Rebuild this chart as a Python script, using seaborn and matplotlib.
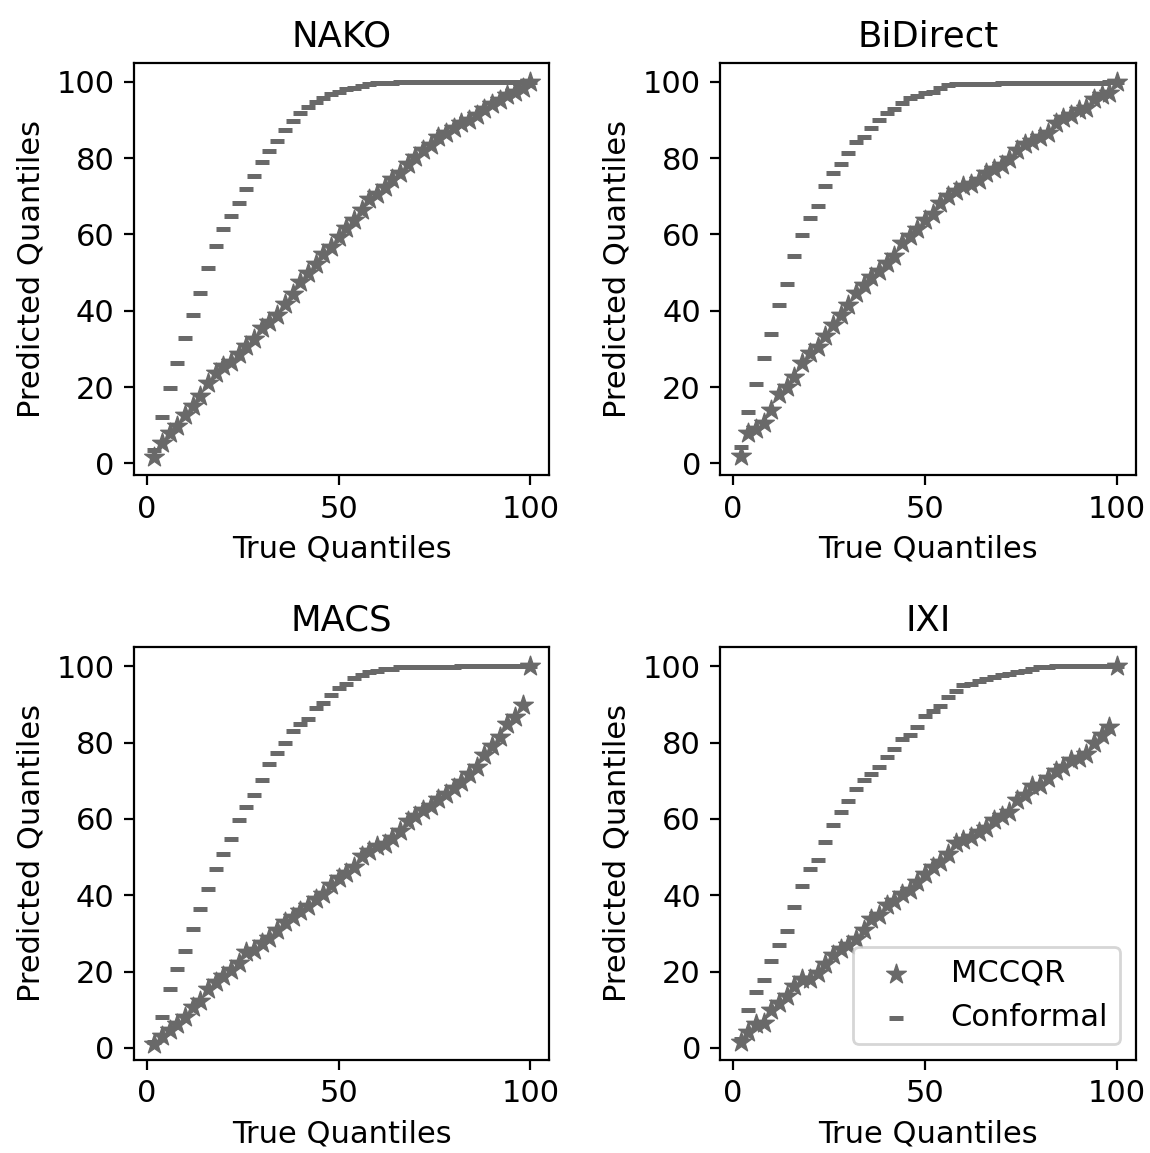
import matplotlib
matplotlib.use("Agg")
import matplotlib.pyplot as plt
import seaborn as sns
import pandas as pd

true_q = [2, 4, 6, 8, 10, 12, 14, 16, 18, 20, 22, 24, 26, 28, 30, 32, 34, 36, 38, 40,
          42, 44, 46, 48, 50, 52, 54, 56, 58, 60, 62, 64, 66, 68, 70, 72, 74, 76, 78, 80,
          82, 84, 86, 88, 90, 92, 94, 96, 98, 100]

titles = ["NAKO", "BiDirect", "MACS", "IXI"]

nako_mccqr = [1.7, 5.4, 7.9, 9.8, 12.7, 15.1, 17.7, 21.0, 23.6, 25.5, 26.6, 28.6, 30.7, 32.5,
              35.4, 37.1, 38.9, 41.9, 44.5, 47.6, 49.8, 52.2, 54.8, 56.8, 59.4, 61.6, 63.9,
              66.4, 69.2, 70.7, 72.5, 74.4, 76.0, 78.4, 80.2, 82.1, 83.4, 85.6, 86.6, 87.8,
              89.1, 90.0, 91.4, 93.0, 94.3, 95.2, 96.5, 97.2, 98.3, 100.0]
nako_conf = [3.6, 12.2, 19.7, 26.2, 32.9, 38.9, 44.7, 51.1, 57.0, 61.4, 64.8, 68.3, 71.9, 75.4,
             79.0, 81.9, 84.5, 87.3, 89.7, 91.9, 93.4, 94.8, 95.8, 96.8, 97.4, 98.0, 98.5,
             99.0, 99.4, 99.6, 99.7, 99.8, 99.9, 99.9, 99.9, 100.0, 100.0, 100.0, 100.0, 100.0,
             100.0, 100.0, 100.0, 100.0, 100.0, 100.0, 100.0, 100.0, 100.0, 100.0]

bidirect_mccqr = [2.0, 7.9, 9.0, 10.7, 14.0, 18.3, 20.1, 22.7, 26.2, 28.8, 30.6, 33.5, 36.2,
                  39.0, 41.6, 44.7, 46.7, 48.9, 50.5, 52.4, 54.3, 57.8, 59.5, 61.4, 63.9, 65.4,
                  68.2, 70.0, 71.4, 72.7, 73.3, 74.3, 76.2, 77.2, 78.1, 79.8, 82.0, 83.6, 84.6,
                  85.6, 86.7, 89.3, 90.4, 91.3, 92.6, 93.2, 95.4, 96.5, 97.1, 100.0]
bidirect_conf = [4.4, 13.5, 20.9, 27.7, 34.0, 41.6, 46.9, 54.3, 59.8, 64.4, 67.5, 72.7, 76.0,
                 78.5, 81.4, 84.3, 85.6, 88.0, 90.0, 91.7, 92.8, 94.5, 95.8, 96.3, 97.0, 97.4,
                 98.5, 99.1, 99.3, 99.4, 99.4, 99.5, 99.5, 99.5, 99.6, 99.6, 99.6, 99.6, 99.7,
                 99.7, 99.7, 99.7, 99.7, 99.7, 99.7, 99.7, 99.8, 99.8, 99.9, 100.0]

macs_mccqr = [0.9, 3.2, 4.7, 6.2, 8.2, 10.6, 12.4, 15.5, 17.2, 18.8, 20.3, 22.3, 25.0, 25.6,
              27.6, 28.9, 30.9, 32.9, 34.4, 35.8, 37.1, 38.9, 40.4, 42.6, 44.4, 45.9, 47.5,
              50.3, 51.5, 53.0, 53.5, 55.0, 56.8, 59.4, 60.7, 62.3, 63.5, 65.1, 66.5, 68.0,
              69.7, 71.8, 73.5, 76.8, 79.1, 81.6, 85.0, 86.8, 89.8, 100.0]
macs_conf = [1.6, 8.2, 15.5, 20.8, 25.4, 31.2, 36.3, 41.7, 46.9, 50.8, 54.8, 59.6, 63.0, 66.3,
             70.2, 74.4, 77.3, 80.0, 83.1, 84.8, 86.3, 89.0, 90.5, 92.5, 94.3, 95.4, 96.9,
             97.8, 98.5, 98.9, 99.2, 99.4, 99.7, 99.8, 99.8, 99.9, 99.9, 99.9, 99.9, 99.9,
             100.0, 100.0, 100.0, 100.0, 100.0, 100.0, 100.0, 100.0, 100.0, 100.0]

ixi_mccqr = [1.5, 4.1, 6.3, 6.6, 9.8, 11.8, 13.6, 16.2, 18.0, 18.1, 19.7, 22.1, 24.4, 25.8,
             26.9, 28.5, 30.8, 33.7, 34.9, 37.4, 38.4, 40.2, 41.3, 43.5, 45.7, 47.5, 48.6,
             50.7, 53.6, 54.5, 55.3, 56.7, 57.7, 59.7, 60.9, 61.9, 65.0, 66.3, 68.7, 68.9,
             70.7, 72.6, 73.5, 75.5, 75.9, 77.0, 79.9, 81.9, 84.2, 100.0]
ixi_conf = [2.4, 9.8, 14.6, 17.7, 22.7, 26.9, 30.6, 37.0, 42.4, 46.8, 49.2, 53.9, 58.4, 61.9,
            64.7, 67.8, 70.1, 71.7, 73.7, 76.2, 78.3, 80.9, 81.9, 84.2, 86.9, 88.4, 89.7,
            91.9, 93.4, 95.0, 95.4, 96.1, 96.8, 97.2, 97.6, 98.0, 98.4, 98.9, 99.3, 99.7,
            99.9, 100.0, 100.0, 100.0, 100.0, 100.0, 100.0, 100.0, 100.0, 100.0]

mccqr_series = [nako_mccqr, bidirect_mccqr, macs_mccqr, ixi_mccqr]
conf_series = [nako_conf, bidirect_conf, macs_conf, ixi_conf]

FS = 11.0
TFS = 12.8
plt.rcParams["font.family"] = ["DejaVu Sans"]
col = "dimgray"

fig, axes = plt.subplots(2, 2, figsize=(5.75, 5.765), dpi=200)
fig.subplots_adjust(left=0.1165, right=0.9876, top=0.9456, bottom=0.0809,
                    wspace=0.412, hspace=0.417)

for ax, title, m, c in zip(axes.flat, titles, mccqr_series, conf_series):
    df = pd.DataFrame({"true": true_q, "mccqr": m, "conf": c})
    sns.scatterplot(data=df, x="true", y="mccqr", ax=ax, marker="*", s=55,
                    color=col, edgecolor=col, linewidth=0.5, label="MCCQR")
    sns.scatterplot(data=df, x="true", y="conf", ax=ax, marker="_", s=24,
                    color=col, edgecolor=col, linewidth=1.8, label="Conformal")
    ax.set_title(title, fontsize=TFS)
    ax.set_xlabel("True Quantiles", fontsize=FS)
    ax.set_ylabel("Predicted Quantiles", fontsize=FS)
    ax.set_xticks([0, 50, 100])
    ax.set_yticks([0, 20, 40, 60, 80, 100])
    ax.tick_params(labelsize=FS)
    ax.set_xlim(-3.3, 104.9)
    ax.set_ylim(-3.1, 105.0)
    leg = ax.get_legend()
    if leg is not None:
        leg.remove()

axes[1, 1].legend(loc="lower right", fontsize=FS)

fig.savefig("out.png", dpi=200)
